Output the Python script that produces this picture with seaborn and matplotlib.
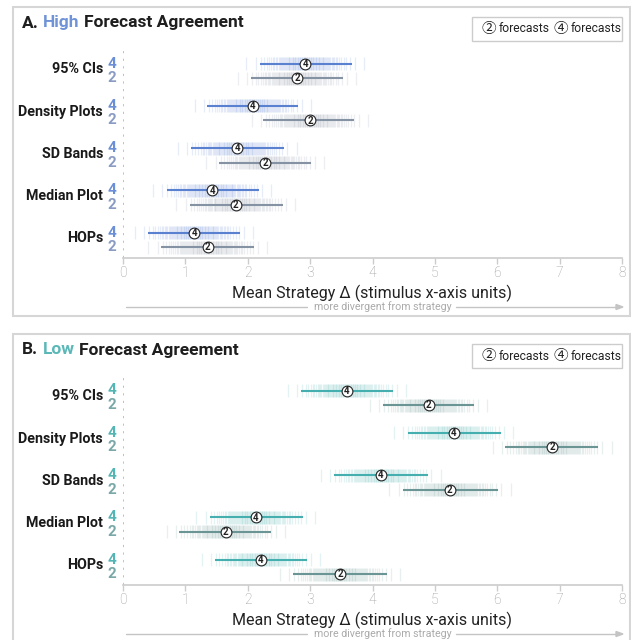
import math
import numpy as np
import pandas as pd
import matplotlib
matplotlib.use("Agg")
import matplotlib.pyplot as plt
from matplotlib.patches import Rectangle, Polygon
import seaborn as sns

# ---------------- data ----------------
categories = ["95% CIs", "Density Plots", "SD Bands", "Median Plot", "HOPs"]

high4_mean = [2.92, 2.08, 1.83, 1.43, 1.14]
high4_lo = [2.20, 1.35, 1.09, 0.70, 0.40]
high4_hi = [3.67, 2.80, 2.58, 2.18, 1.88]
high2_mean = [2.79, 3.00, 2.28, 1.81, 1.36]
high2_lo = [2.05, 2.24, 1.54, 1.07, 0.61]
high2_hi = [3.53, 3.70, 3.01, 2.56, 2.10]

low4_mean = [3.59, 5.30, 4.13, 2.13, 2.21]
low4_lo = [2.85, 4.57, 3.39, 1.39, 1.47]
low4_hi = [4.33, 6.06, 4.89, 2.88, 2.95]
low2_mean = [4.90, 6.88, 5.24, 1.65, 3.48]
low2_lo = [4.17, 6.12, 4.49, 0.90, 2.72]
low2_hi = [5.63, 7.61, 6.01, 2.38, 4.23]

x_ticks = [0, 1, 2, 3, 4, 5, 6, 7, 8]

sns.set_theme(style="white")
FONT = ["Roboto", "DejaVu Sans", "Noto Sans CJK JP"]
plt.rcParams["font.family"] = FONT

W, H = 631, 640
fig = plt.figure(figsize=(W / 100, H / 100), dpi=100)
R = fig.canvas.get_renderer()


def fx(px):
    return px / W


def fy(py):
    return 1 - py / H


def text_w(s, **kw):
    t = fig.text(0, 0, s, **kw)
    w = t.get_window_extent(renderer=R).width
    t.remove()
    return w


# normal quantiles for barcode rendering (derived from each interval)
_zg = np.linspace(-3.2, 3.2, 2001)
_cdf = np.array([0.5 * (1 + math.erf(z / math.sqrt(2))) for z in _zg])
_p = np.linspace(0.006, 0.994, 90)
Z_Q = np.interp(_p, _cdf, _zg)


def panel(top_px, letter, word, word_color, m4, l4, h4, m2, l2, h2,
          c4, c2, lab4, lab2, box_bottom):
    # panel border
    fig.patches.append(Rectangle((fx(13), fy(box_bottom)), fx(617), (box_bottom - top_px) / H,
                                 transform=fig.transFigure, fill=False,
                                 edgecolor="#d6d6d6", linewidth=1.5, zorder=0))
    # title with coloured word
    tkw = dict(fontsize=12.5, fontweight="bold")
    full = f"{letter} {word} Forecast Agreement"
    ty = fy(top_px + 16)
    x0 = 22
    fig.text(fx(x0), ty, letter, color="#1e1e1e", va="center", ha="left", **tkw)
    off_word = text_w(f"{letter} {word}", **tkw) - text_w(word, **tkw)
    fig.text(fx(x0 + off_word), ty, word, color=word_color, va="center", ha="left", **tkw)
    off_rest = text_w(full, **tkw) - text_w("Forecast Agreement", **tkw)
    fig.text(fx(x0 + off_rest), ty, "Forecast Agreement", color="#1e1e1e", va="center",
             ha="left", **tkw)
    # legend box
    fig.patches.append(Rectangle((fx(472), fy(top_px + 34)), fx(150), 24 / H,
                                 transform=fig.transFigure, fill=False,
                                 edgecolor="#cccccc", linewidth=1.0))
    ly = fy(top_px + 22)
    ckw = dict(fontsize=10.5, color="#222222", va="center", ha="left",
               family=["Noto Sans CJK JP", "DejaVu Sans"])
    lkw = dict(fontsize=8.7, color="#222222", va="center", ha="left")
    fig.text(fx(481), ly, "\u2461", **ckw)
    fig.text(fx(499), ly, "forecasts", **lkw)
    fig.text(fx(553), ly, "\u2463", **ckw)
    fig.text(fx(571), ly, "forecasts", **lkw)

    ax_top = top_px + 43
    ax = fig.add_axes([fx(123), fy(ax_top + 208), fx(499), 208 / H])
    y4 = [13.5 + i * 42.3 for i in range(len(categories))]
    y2 = [y + 14.5 for y in y4]

    rows = []
    for i, cat in enumerate(categories):
        rows.append(dict(cat=cat, n="4", y=y4[i], est=m4[i], lo=l4[i], hi=h4[i]))
        rows.append(dict(cat=cat, n="2", y=y2[i], est=m2[i], lo=l2[i], hi=h2[i]))
    df = pd.DataFrame(rows)
    cmap = {"4": c4, "2": c2}

    # barcodes
    for _, row in df.iterrows():
        sd = (row["hi"] - row["lo"]) / 3.92
        xs = row["est"] + sd * Z_Q
        ax.vlines(xs, row["y"] - 6.5, row["y"] + 6.5, color=cmap[row["n"]], alpha=0.15,
                  linewidth=0.9, zorder=1)
    # interval lines
    for n in ["4", "2"]:
        d = df[df.n == n]
        ax.hlines(d["y"], d["lo"], d["hi"], color=cmap[n], linewidth=1.5, zorder=2)
    # point markers
    sns.scatterplot(data=df, x="est", y="y", ax=ax, s=60, color="white",
                    edgecolor="#222222", linewidth=0.8, zorder=3, legend=False)
    for _, row in df.iterrows():
        ax.text(row["est"], row["y"] + 0.2, row["n"], ha="center", va="center", fontsize=7,
                fontweight="bold", color="#222222", zorder=4)

    # left labels
    tr = ax.get_yaxis_transform()
    for i, cat in enumerate(categories):
        ax.text(-0.04, (y4[i] + y2[i]) / 2 - 1.5, cat, transform=tr, ha="right", va="center",
                fontsize=10.3, fontweight="bold", color="#1a1a1a")
        ax.text(-0.022, y4[i], "4", transform=tr, ha="center", va="center",
                fontsize=11, fontweight="bold", color=lab4)
        ax.text(-0.022, y2[i], "2", transform=tr, ha="center", va="center",
                fontsize=11, fontweight="bold", color=lab2)

    ax.axvline(0, color="#bbbbbb", linestyle=(0, (1.2, 3)), linewidth=1.3, zorder=0)
    ax.set_xlim(0, 8)
    ax.set_ylim(208, 0)
    ax.set_xticks(x_ticks)
    ax.set_xticklabels([str(t) for t in x_ticks])
    ax.set_yticks([])
    ax.set_ylabel("")
    ax.set_xlabel("Mean Strategy \u0394 (stimulus x-axis units)", fontsize=11.5,
                  color="#222222", labelpad=3)
    for s in ["top", "right", "left"]:
        ax.spines[s].set_visible(False)
    ax.spines["bottom"].set_color("#cccccc")
    ax.spines["bottom"].set_linewidth(1.2)
    ax.tick_params(axis="x", colors="#cccccc", labelcolor="#999999", length=4,
                   width=1, labelsize=10, pad=2, bottom=True)
    for lbl in ax.get_xticklabels():
        lbl.set_fontweight("light")
    ax.set_facecolor("none")

    # divergence arrow
    ay = fy(ax_top + 257)
    fig.add_artist(plt.Line2D([fx(126), fx(307)], [ay, ay], color="#c4c4c4", linewidth=1,
                              transform=fig.transFigure))
    fig.text(fx(383), ay, "more divergent from strategy", fontsize=7.7, color="#aaaaaa",
             ha="center", va="center")
    fig.add_artist(plt.Line2D([fx(456), fx(617)], [ay, ay], color="#c4c4c4", linewidth=1,
                              transform=fig.transFigure))
    fig.patches.append(Polygon(
        [[fx(616), ay + 2.5 / H], [fx(623), ay], [fx(616), ay - 2.5 / H]],
        closed=True, transform=fig.transFigure, color="#c4c4c4"))
    return ax


panel(7, "A.", "High", "#6f93d6", high4_mean, high4_lo, high4_hi,
      high2_mean, high2_lo, high2_hi, "#5a80d0", "#8592a3", "#6b8fd6", "#8a9cc4", 316)
panel(334, "B.", "Low", "#5bb8b8", low4_mean, low4_lo, low4_hi,
      low2_mean, low2_lo, low2_hi, "#45afaf", "#6b9595", "#55b5b5", "#7aa8a8", 660)

fig.savefig("out.png", dpi=100)
